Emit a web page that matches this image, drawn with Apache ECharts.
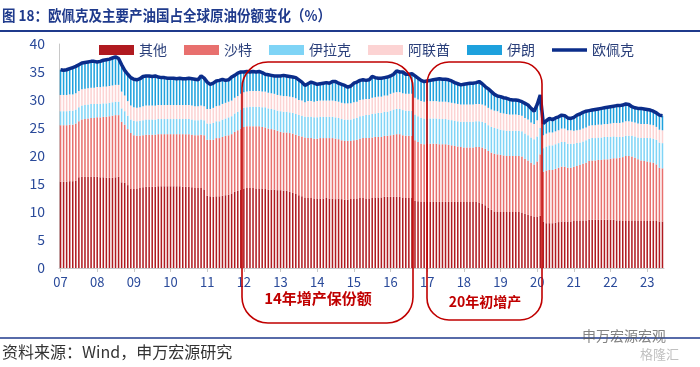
<!DOCTYPE html>
<html><head><meta charset="utf-8">
<script src="https://cdn.jsdelivr.net/npm/echarts@6/dist/echarts.min.js"></script>
<style>html,body{margin:0;padding:0;background:#fff;}#c{width:700px;height:367px;}</style>
</head><body><div id="c"></div>
<script>
// ---- data (monthly, Jan 2007 - Jun 2023, % of world crude output) ----
const yearLabels = ['07','08','09','10','11','12','13','14','15','16','17','18','19','20','21','22','23'];
const monthsInLastYear = 6;
const seriesNames = ['其他','沙特','伊拉克','阿联酋','伊朗','欧佩克'];

const other = [
15.4,15.4,15.4,15.5,15.5,15.6,16.2,16.3,16.3,16.3,16.3,16.3,
16.3,16.2,16.2,16.1,16.1,16.1,16.2,16.3,15.3,15.2,14.8,14.2,
14.1,14.2,14.3,14.4,14.5,14.5,14.5,14.5,14.6,14.6,14.6,14.6,
14.6,14.6,14.6,14.6,14.5,14.5,14.5,14.4,14.3,14.3,14.3,14.0,
12.9,12.8,12.7,12.8,12.8,12.9,13.0,13.1,13.3,13.6,13.8,14.0,
14.2,14.3,14.3,14.3,14.2,14.2,14.2,14.1,14.0,14.0,14.0,13.9,
13.9,13.8,13.8,13.6,13.4,13.2,13.0,12.8,12.6,12.5,12.5,12.4,
12.4,12.4,12.4,12.5,12.4,12.4,12.3,12.4,12.3,12.2,12.2,12.3,
12.4,12.4,12.5,12.5,12.4,12.4,12.5,12.6,12.6,12.6,12.7,12.7,
12.7,12.7,12.7,12.7,12.6,12.5,12.5,12.6,12.0,11.9,11.8,11.8,
11.8,11.8,11.8,11.8,11.8,11.8,11.8,11.8,11.8,11.8,11.8,11.8,
11.8,11.8,11.8,11.8,11.8,11.7,11.5,11.2,10.8,10.4,10.1,10.0,
10.0,10.0,10.0,10.0,10.0,10.0,10.0,9.9,9.7,9.5,9.3,9.2,
9.2,9.3,8.3,8.0,8.0,8.0,8.1,8.2,8.3,8.3,8.3,8.3,
8.4,8.4,8.5,8.5,8.5,8.6,8.6,8.6,8.6,8.6,8.6,8.6,
8.6,8.6,8.5,8.5,8.4,8.4,8.4,8.5,8.5,8.4,8.4,8.4,
8.4,8.4,8.4,8.4,8.3,8.3];

const saudi = [
10.1,10.1,10.1,10.1,10.1,10.2,10.0,10.2,10.3,10.4,10.5,10.5,
10.6,10.7,10.8,10.9,11.0,11.1,11.1,11.0,10.8,10.4,10.0,9.9,
9.6,9.4,9.3,9.3,9.3,9.3,9.3,9.3,9.3,9.3,9.3,9.3,
9.3,9.3,9.3,9.3,9.4,9.4,9.4,9.4,9.4,9.4,9.5,9.7,
10.0,10.1,10.2,10.4,10.4,10.5,10.6,10.6,10.6,10.7,10.8,10.9,
11.0,11.0,11.0,11.0,11.1,11.1,11.0,11.0,10.9,10.8,10.7,10.6,
10.4,10.4,10.4,10.5,10.6,10.6,10.6,10.7,10.7,10.7,10.7,10.7,
10.7,10.8,10.8,10.7,10.8,10.8,10.8,10.6,10.5,10.5,10.5,10.4,
10.4,10.5,10.6,10.7,10.8,10.8,10.8,10.8,10.8,10.8,10.9,10.9,
11.0,11.1,11.2,11.2,11.1,11.1,11.1,11.0,10.8,10.6,10.4,10.3,
10.4,10.4,10.4,10.4,10.3,10.3,10.3,10.2,10.1,10.0,9.9,9.8,
9.7,9.7,9.7,9.7,9.8,9.9,10.0,10.1,10.1,10.2,10.3,10.3,
10.2,10.1,10.0,10.0,10.0,10.0,10.0,10.0,9.8,9.7,9.5,9.3,
9.8,11.0,8.9,9.4,9.5,9.5,9.6,9.7,9.8,9.8,9.6,9.6,
9.7,9.8,9.9,10.1,10.3,10.5,10.6,10.6,10.7,10.7,10.8,10.8,
10.9,11.0,11.1,11.2,11.4,11.6,11.6,11.4,11.2,11.0,10.8,10.7,
10.6,10.5,10.4,10.1,9.6,9.5];

const iraq = [
2.5,2.5,2.5,2.5,2.5,2.5,2.5,2.5,2.5,2.5,2.5,2.5,
2.4,2.4,2.4,2.4,2.4,2.4,2.4,2.4,2.4,2.4,2.4,2.4,
2.6,2.6,2.7,2.7,2.7,2.7,2.7,2.7,2.7,2.7,2.7,2.7,
2.7,2.7,2.7,2.7,2.7,2.7,2.7,2.7,2.7,2.7,2.7,2.7,
2.9,2.9,3.0,3.0,3.0,3.1,3.1,3.2,3.2,3.3,3.3,3.4,
3.4,3.4,3.5,3.5,3.5,3.5,3.5,3.6,3.6,3.6,3.6,3.6,
3.7,3.7,3.7,3.7,3.7,3.7,3.7,3.7,3.7,3.8,3.8,3.8,
3.8,3.8,3.8,3.8,3.8,3.8,3.8,3.8,3.8,3.8,3.8,3.8,
3.9,3.9,4.0,4.0,4.1,4.1,4.2,4.2,4.3,4.3,4.3,4.3,
4.4,4.5,4.5,4.5,4.5,4.5,4.5,4.5,4.6,4.6,4.6,4.6,
4.5,4.5,4.5,4.5,4.5,4.5,4.5,4.5,4.5,4.5,4.5,4.5,
4.6,4.6,4.6,4.6,4.6,4.6,4.6,4.6,4.6,4.6,4.6,4.6,
4.5,4.5,4.5,4.5,4.5,4.5,4.5,4.5,4.5,4.5,4.5,4.5,
4.5,4.7,4.2,4.3,4.4,4.4,4.4,4.4,4.4,4.4,4.3,4.3,
4.1,4.1,4.0,4.0,4.0,4.0,4.0,4.0,4.0,4.0,4.0,4.0,
3.9,3.9,3.8,3.7,3.6,3.6,3.6,3.7,3.8,3.9,4.0,4.1,
4.2,4.3,4.3,4.4,4.5,4.5];

const uae = [
2.9,2.9,2.9,2.9,2.9,2.9,2.9,2.9,2.9,2.9,2.9,2.9,
3.0,3.0,3.0,3.0,3.0,3.0,3.0,3.0,3.0,2.8,2.6,2.5,
2.4,2.4,2.4,2.5,2.5,2.5,2.5,2.5,2.5,2.5,2.5,2.5,
2.5,2.5,2.5,2.5,2.5,2.5,2.5,2.5,2.5,2.5,2.5,2.5,
2.6,2.6,2.7,2.7,2.8,2.8,2.8,2.8,2.8,2.8,2.8,2.8,
2.8,2.8,2.8,2.8,2.8,2.8,2.8,2.8,2.8,2.8,2.8,2.8,
2.8,2.8,2.8,2.8,2.8,2.8,2.7,2.7,2.6,2.8,2.8,2.8,
2.9,2.9,2.9,2.9,2.9,2.9,2.9,2.9,2.9,2.9,2.9,2.9,
2.9,2.9,2.9,2.9,2.9,2.9,2.9,2.9,2.9,2.9,2.9,2.9,
3.0,3.0,3.0,3.0,3.0,3.0,3.0,3.0,3.0,3.0,3.0,3.0,
3.1,3.1,3.1,3.1,3.1,3.1,3.1,3.1,3.1,3.1,3.1,3.1,
3.1,3.1,3.1,3.1,3.1,3.1,3.1,3.1,3.1,3.1,3.1,3.1,
3.0,3.0,3.0,2.9,2.9,2.9,2.8,2.8,2.8,2.8,2.7,2.7,
2.9,3.2,2.3,2.3,2.3,2.3,2.3,2.3,2.4,2.4,2.4,2.4,
2.3,2.3,2.3,2.3,2.3,2.3,2.3,2.3,2.3,2.3,2.3,2.3,
2.4,2.4,2.5,2.5,2.6,2.6,2.6,2.5,2.5,2.5,2.5,2.5,
2.5,2.4,2.4,2.3,2.3,2.3];

const iran = [
4.5,4.4,4.5,4.6,4.8,4.8,4.7,4.7,4.7,4.7,4.7,4.7,
4.5,4.6,4.7,4.8,4.8,4.9,5.0,4.7,4.8,4.5,4.8,5.0,
5.0,5.0,5.1,5.3,5.3,5.3,5.2,5.3,5.0,4.9,4.9,4.8,
4.8,4.8,4.7,4.8,4.7,4.7,4.8,4.8,4.8,4.7,5.3,5.0,
4.8,4.4,4.4,4.5,4.5,4.4,4.0,3.9,4.2,4.0,4.1,3.9,
3.6,3.6,3.4,3.5,3.4,3.5,3.4,3.1,3.2,3.2,3.2,3.4,
3.5,3.7,3.6,3.6,3.6,3.7,3.6,3.3,3.0,3.1,3.4,3.3,
3.0,3.0,3.1,3.2,3.1,3.4,3.5,3.3,3.3,3.2,2.9,3.1,
3.4,3.5,3.5,3.5,3.3,3.4,3.8,3.5,3.3,3.3,3.2,3.3,
3.2,3.3,3.8,3.6,3.8,3.5,3.5,3.6,3.9,3.8,3.7,3.6,
3.6,3.7,3.8,3.9,4.1,4.0,4.0,4.0,3.9,3.7,3.6,3.5,
3.6,3.7,3.8,3.8,3.8,4.0,3.7,3.4,3.4,3.2,2.9,2.7,
2.9,2.8,2.8,2.7,2.6,2.6,2.6,2.5,2.6,2.6,2.5,2.3,
2.8,2.7,2.1,2.3,2.5,2.3,2.4,2.4,2.4,2.3,2.2,2.1,
2.4,2.7,2.8,2.9,2.9,2.7,2.7,2.8,2.8,2.9,2.9,3.0,
3.0,3.0,3.1,3.1,3.1,3.1,3.0,2.7,2.6,2.7,2.8,2.7,
2.6,2.6,2.5,2.5,2.6,2.6];

const opec = [
35.4,35.3,35.4,35.6,35.8,36.0,36.3,36.6,36.7,36.8,36.9,36.9,
36.8,36.9,37.1,37.2,37.3,37.5,37.7,37.4,36.3,35.3,34.6,34.0,
33.7,33.6,33.8,34.2,34.3,34.3,34.2,34.3,34.1,34.0,34.0,33.9,
33.9,33.9,33.8,33.9,33.8,33.8,33.9,33.8,33.7,33.6,34.3,33.9,
33.2,32.8,33.0,33.4,33.5,33.7,33.5,33.6,34.1,34.4,34.8,35.0,
35.0,35.1,35.0,35.1,35.0,35.1,34.9,34.6,34.5,34.4,34.3,34.3,
34.3,34.4,34.3,34.2,34.1,34.0,33.6,33.2,32.6,32.9,33.2,33.0,
32.8,32.9,33.0,33.1,33.0,33.3,33.3,33.0,32.8,32.6,32.3,32.5,
33.0,33.2,33.5,33.6,33.5,33.6,34.2,34.0,33.9,33.9,34.0,34.1,
34.3,34.6,35.2,35.0,35.0,34.6,34.6,34.7,34.3,33.9,33.5,33.3,
33.4,33.5,33.6,33.7,33.8,33.7,33.7,33.6,33.4,33.1,32.9,32.7,
32.8,32.9,33.0,33.0,33.1,33.3,32.9,32.4,32.0,31.5,31.0,30.7,
30.6,30.4,30.3,30.1,30.0,30.0,29.9,29.7,29.4,29.1,28.5,28.0,
29.2,30.9,25.8,26.3,26.7,26.5,26.8,27.0,27.3,27.2,26.8,26.7,
26.9,27.3,27.5,27.8,28.0,28.1,28.2,28.3,28.4,28.5,28.6,28.7,
28.8,28.9,29.0,29.0,29.1,29.3,29.2,28.8,28.6,28.5,28.5,28.4,
28.3,28.2,28.0,27.7,27.3,27.2];

// ---- categories (one per month) ----
const categories = [];
yearLabels.forEach((y, yi) => {
  const n = (yi === yearLabels.length - 1) ? monthsInLastYear : 12;
  for (let m = 1; m <= n; m++) categories.push(y + '-' + (m < 10 ? '0' + m : m));
});

const chart = echarts.init(document.getElementById('c'), null, {renderer: 'canvas'});
const NAVY = '#1f3a8c';
const RED = '#c00000';
const font = '"Noto Sans CJK SC", "Noto Sans", sans-serif';
const barColors = ['#b01a20', '#e8706e', '#7fd4f6', '#fcd3d3', '#1ea1dd'];
const barData = [other, saudi, iraq, uae, iran];

const series = barData.map((d, i) => ({
  name: seriesNames[i], type: 'bar', stack: 'opec', data: d,
  barCategoryGap: '50%', itemStyle: {color: barColors[i]}, silent: true
}));
series.push({
  name: seriesNames[5], type: 'line', data: opec, symbol: 'none', z: 5,
  lineStyle: {color: '#0b2d8a', width: 3.5}, itemStyle: {color: '#0b2d8a'}
});

chart.setOption({
  animation: false,
  textStyle: {fontFamily: font},
  grid: {left: 59, right: 36, top: 44, bottom: 99, containLabel: false},
  legend: {
    left: 94, top: 38, itemWidth: 35, itemHeight: 10, itemGap: 17,
    textStyle: {color: '#2a3f7a', fontSize: 14, fontFamily: font},
    data: seriesNames.map((n, i) => i < 5 ? {name: n, icon: 'rect'} :
      {name: n, icon: 'path://M0,0 L40,0 L40,4 L0,4 Z'})
  },
  xAxis: {
    type: 'category', data: categories, boundaryGap: true,
    axisLine: {show: true, lineStyle: {color: '#c8c8c8'}},
    axisTick: {show: true, alignWithLabel: true, interval: (i) => i % 12 === 0, lineStyle: {color: '#c8c8c8'}, length: 4},
    axisLabel: {interval: (i) => i % 12 === 0, formatter: (v) => v.slice(0, 2),
      color: '#2a4a9a', fontSize: 13, margin: 8, fontFamily: font}
  },
  yAxis: {
    type: 'value', min: 0, max: 40, interval: 5,
    axisLine: {show: true, lineStyle: {color: '#c8c8c8'}},
    axisTick: {show: false}, splitLine: {show: false},
    axisLabel: {color: '#2a4a9a', fontSize: 14, margin: 14, fontFamily: font}
  },
  series: series,
  graphic: [
    {type: 'text', x: 2, y: 8, scaleX: 0.9, z: 10, style: {text: '图 18：欧佩克及主要产油国占全球原油份额变化（%）',
      font: 'bold 15px ' + font, fill: NAVY}},
    {type: 'line', z: 10, shape: {x1: 0, y1: 31, x2: 700, y2: 31}, style: {stroke: NAVY, lineWidth: 2}},
    {type: 'rect', z: 20, shape: {x: 242, y: 62, width: 171, height: 261, r: 26},
      style: {fill: 'none', stroke: RED, lineWidth: 1.6}},
    {type: 'rect', z: 20, shape: {x: 427, y: 62, width: 115, height: 258, r: 22},
      style: {fill: 'none', stroke: RED, lineWidth: 1.6}},
    {type: 'text', z: 21, x: 318, y: 298, style: {text: '14年增产保份额', font: 'bold 15px ' + font,
      fill: RED, textAlign: 'center', textVerticalAlign: 'middle'}},
    {type: 'text', z: 21, x: 485, y: 302, style: {text: '20年初增产', font: 'bold 14px ' + font,
      fill: RED, textAlign: 'center', textVerticalAlign: 'middle'}},
    {type: 'line', z: 10, shape: {x1: 0, y1: 338, x2: 700, y2: 338}, style: {stroke: NAVY, lineWidth: 1.5}},
    {type: 'text', left: 2, top: 344, z: 10, style: {text: '资料来源：Wind，申万宏源研究',
      font: '16px ' + font, fill: '#333'}},
    {type: 'text', left: 582, top: 329, z: 10, style: {text: '申万宏源宏观',
      font: '14px ' + font, fill: 'rgba(90,90,90,0.75)'}},
    {type: 'text', left: 640, top: 348, z: 10, style: {text: '格隆汇',
      font: '13px ' + font, fill: 'rgba(150,150,150,0.6)'}}
  ]
});
</script></body></html>
